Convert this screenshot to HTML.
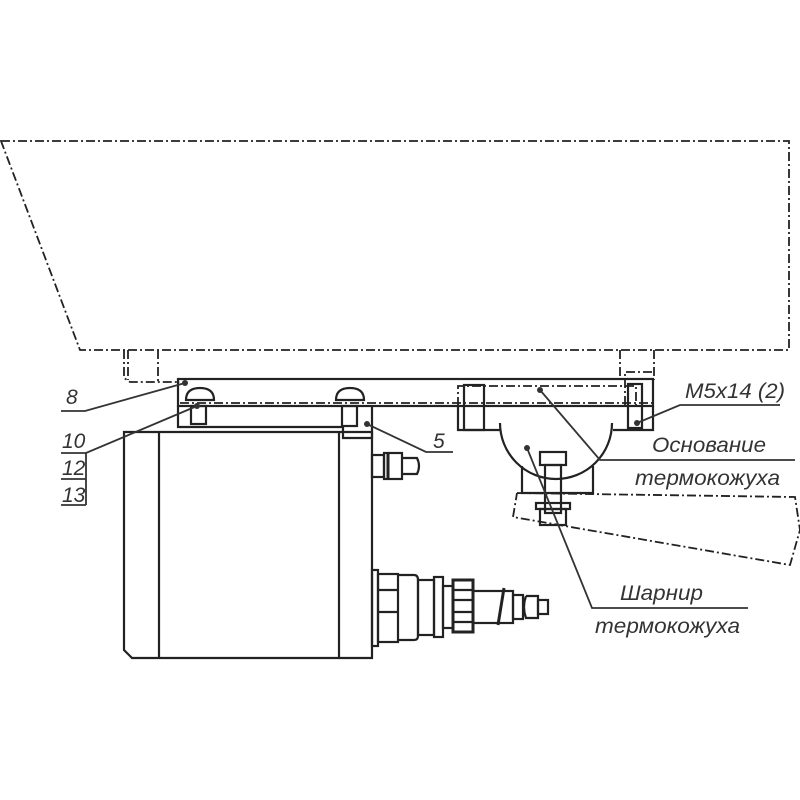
<!DOCTYPE html>
<html><head><meta charset="utf-8"><style>
html,body{margin:0;padding:0;background:#fff;width:800px;height:800px;overflow:hidden}
text{font-family:"Liberation Sans",sans-serif;font-style:italic;fill:#333}
</style></head><body>
<svg width="800" height="800" viewBox="0 0 800 800" xmlns="http://www.w3.org/2000/svg">
<g fill="none" stroke="#222" stroke-width="1.8" stroke-dasharray="9,3,2,3">
<polygon points="1,141 789,141 789,350 80,350"/>
<polyline points="124,350 124,378 130,382 180,382"/>
<line x1="128" y1="350" x2="128" y2="380"/>
<line x1="158" y1="350" x2="158" y2="382"/>
<line x1="620" y1="350" x2="620" y2="380"/>
<line x1="654" y1="350" x2="654" y2="380"/>
<polyline points="625,405 625,372 654,372"/>
<line x1="180" y1="403" x2="653" y2="403"/>
<polyline points="458,406 458,386 636,386 636,406"/>
<polyline points="517,493 795,497 800,530 790,565 513,517 517,493"/>
</g>
<g fill="none" stroke="#222" stroke-width="2.2">
<rect x="178" y="379" width="475" height="27"/>
<polyline points="178,406 178,427 343,427 343,438 372,438 372,406"/>
<polyline points="458,406 458,430 500,430"/>
<polyline points="653,406 653,430 613,430"/>
<path d="M500,423 A56,56 0 0 0 612,423"/>
<polyline points="522,466 522,493 593,493 593,466"/>
<path d="M124,432 H372 V658 H132 L124,650 Z"/>
<line x1="159" y1="432" x2="159" y2="658"/>
<line x1="339" y1="432" x2="339" y2="658"/>
<path d="M186,400 Q186,388 200,388 Q214,388 214,400 Z"/>
<path d="M336,400 Q336,388 350,388 Q364,388 364,400 Z"/>
<rect x="191" y="406" width="15" height="18"/>
<rect x="342" y="406" width="15" height="20"/>
<rect x="540" y="452" width="26" height="13"/>
<rect x="545" y="465" width="16" height="48"/>
<rect x="536" y="503" width="34" height="6"/>
<rect x="540" y="509" width="26" height="16"/>
<rect x="464" y="385" width="20" height="45"/>
<rect x="628" y="384" width="14" height="44"/>
<rect x="372" y="455" width="12" height="22"/>
<rect x="384" y="453" width="18" height="26"/>
<path d="M402,458 H417 Q421,466 417,474 H402"/>
<line x1="388" y1="453" x2="388" y2="479" stroke-width="3"/>
<rect x="372" y="570" width="6" height="76"/>
<rect x="378" y="574" width="20" height="68"/>
<line x1="378" y1="590" x2="398" y2="590"/><line x1="378" y1="612" x2="398" y2="612"/>
<path d="M398,575 H414 Q418,575 418,580 V636 Q418,640 414,640 H398"/>
<rect x="418" y="580" width="16" height="55"/>
<rect x="434" y="577" width="9" height="60"/>
<rect x="443" y="586" width="10" height="42"/>
<rect x="453" y="580" width="20" height="52" stroke-width="3"/>
<line x1="453" y1="590" x2="473" y2="590"/><line x1="453" y1="600" x2="473" y2="600"/><line x1="453" y1="612" x2="473" y2="612"/><line x1="453" y1="622" x2="473" y2="622"/>
<rect x="473" y="591" width="40" height="32"/>
<line x1="498" y1="625" x2="504" y2="588" stroke-width="3"/>
<rect x="513" y="595" width="10" height="24"/>
<path d="M526,596 H538 V618 H526 Q522,607 526,596"/>
<rect x="538" y="600" width="10" height="14"/>
</g>
<g fill="#333">
<circle cx="185" cy="383" r="3"/><circle cx="197" cy="406" r="3"/><circle cx="367" cy="424" r="3"/>
<circle cx="540" cy="390" r="3"/><circle cx="637" cy="423" r="3"/><circle cx="527" cy="448" r="3"/>
</g>
<g fill="none" stroke="#333" stroke-width="1.8">
<polyline points="61,411 85,411 185,383"/>
<polyline points="61,453 86,453 197,406"/>
<line x1="86" y1="453" x2="86" y2="505"/>
<line x1="61" y1="479" x2="86" y2="479"/>
<line x1="61" y1="505" x2="86" y2="505"/>
<polyline points="367,424 426,452 453,452"/>
<polyline points="637,423 680,405 780,405"/>
<polyline points="540,390 600,460 795,460"/>
<polyline points="527,448 592,608 748,608"/>
</g>
<text x="66" y="404" font-size="21">8</text>
<text x="62" y="448" font-size="21">10</text>
<text x="62" y="475" font-size="21">12</text>
<text x="62" y="502" font-size="21">13</text>
<text x="433" y="448" font-size="21">5</text>
<text x="685" y="398" font-size="21" textLength="100" lengthAdjust="spacingAndGlyphs">M5x14 (2)</text>
<text x="652" y="452" font-size="21" textLength="114" lengthAdjust="spacingAndGlyphs">Основание</text>
<text x="635" y="485" font-size="21" textLength="145" lengthAdjust="spacingAndGlyphs">термокожуха</text>
<text x="620" y="600" font-size="21" textLength="83" lengthAdjust="spacingAndGlyphs">Шарнир</text>
<text x="595" y="633" font-size="21" textLength="145" lengthAdjust="spacingAndGlyphs">термокожуха</text>
</svg>
</body></html>
